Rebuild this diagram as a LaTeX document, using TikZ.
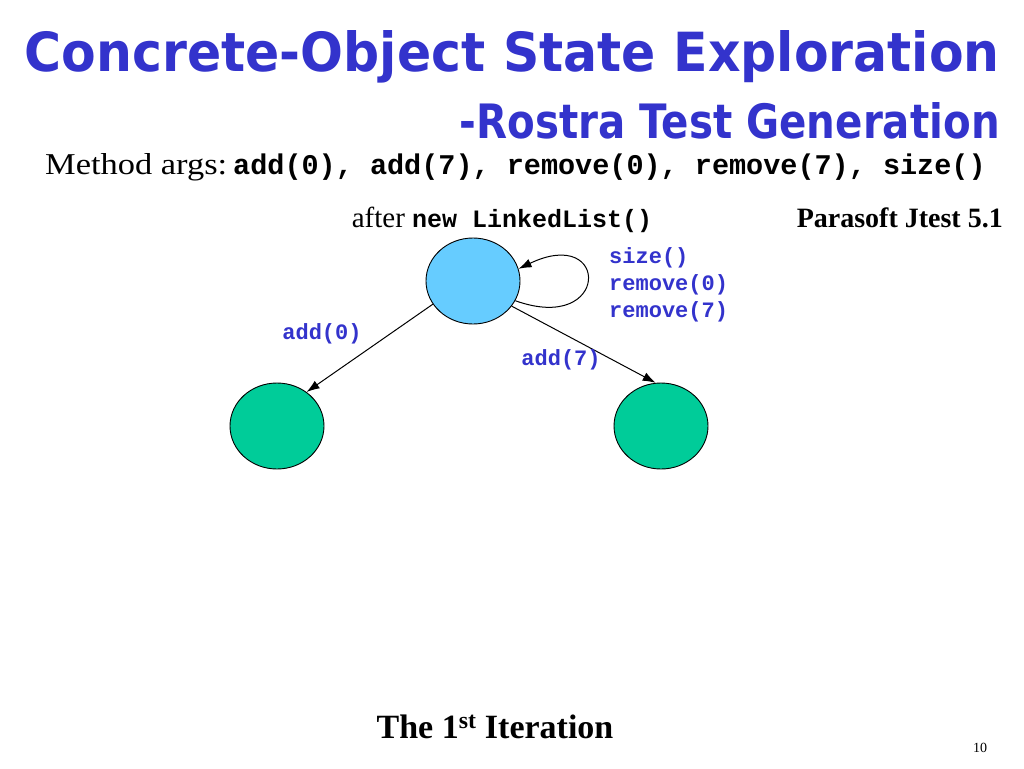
\documentclass[tikz,border=0pt]{standalone}
\usepackage{fontspec}
\usepackage{graphicx}
\setmainfont{Liberation Serif}
\setmonofont{Liberation Mono}
\newfontfamily\titlefont{DejaVu Sans}
\usetikzlibrary{shapes.geometric,positioning,arrows.meta}
\definecolor{titleblue}{RGB}{51,51,204}
\definecolor{stateblue}{RGB}{102,204,255}
\definecolor{stategreen}{RGB}{0,204,153}

\begin{document}
\begin{tikzpicture}[x=1pt,y=-1pt]

			\tikzstyle{state}=[ellipse,draw=black,line width=0.9pt,
				minimum width=94pt,minimum height=86pt,inner sep=0pt,
				on grid]
			\tikzstyle{call}=[text=titleblue,inner sep=0pt,align=left,
				font=\fontsize{22}{27}\selectfont\ttfamily\bfseries]
			\tikzstyle{edge}=[-{Latex[length=13pt,width=9pt]},line width=1pt]
			\tikzstyle{plain}=[inner sep=0pt,text=black]

			\useasboundingbox[fill=white] (0,0) rectangle (1024,768);

			% heading
			\node[plain,anchor=base east,text=titleblue]	(title)	at (1000,71)
				{\resizebox{975pt}{41pt}{\titlefont\bfseries Concrete-Object State Exploration}};
			\node[plain,anchor=base east,text=titleblue]	(subtitle)	at (1000,138)
				{\resizebox{540pt}{36pt}{\titlefont\bfseries -Rostra Test Generation}};
			\node[plain,anchor=base west]	(args)	at (45,174)
				{\resizebox{182pt}{21pt}{\fontsize{30}{34}\selectfont Method args:}};
			\node[plain,anchor=base west]	(arglist)	at (233,174)
				{\fontsize{28.5}{34}\selectfont\ttfamily\bfseries add(0), add(7), remove(0), remove(7), size()};

			% states
			\node[state,fill=stateblue]	(init)	at (473,281)	{};
			\node[state,fill=stategreen,below left=145pt and 196pt of init]	(add0)	{};
			\node[state,fill=stategreen,below right=145pt and 188pt of init]	(add7)	{};

			\node[plain,anchor=base]	(initlbl)	at (502,227)
				{\fontsize{29}{34}\selectfont after {\fontsize{25}{30}\selectfont\ttfamily\bfseries new LinkedList()}};
			\node[plain,anchor=base east]	(tool)	at (1003,227)
				{\fontsize{28}{34}\selectfont\bfseries Parasoft Jtest 5.1};

			% transitions
			\draw[edge]	(init.335) .. controls +(95,34) and +(92,-44) .. (init.15);
			\draw[edge]	(init.210) -- (add0.49);
			\draw[edge]	(init.327) -- (add7.97);

			\node[call,anchor=west]	(looplbl)	at (609,285)	{size()\\remove(0)\\remove(7)};
			\node[call]	(add0lbl)	at (322,334)	{add(0)};
			\node[call]	(add7lbl)	at (561,360)	{add(7)};

			% footer
			\node[plain,anchor=base]	(iter)	at (495,738)
				{\fontsize{34}{40}\selectfont\bfseries The 1\textsuperscript{st} Iteration};
			\node[plain]	(page)	at (980,748)	{\fontsize{14}{16}\selectfont 10};

\end{tikzpicture}
\end{document}
